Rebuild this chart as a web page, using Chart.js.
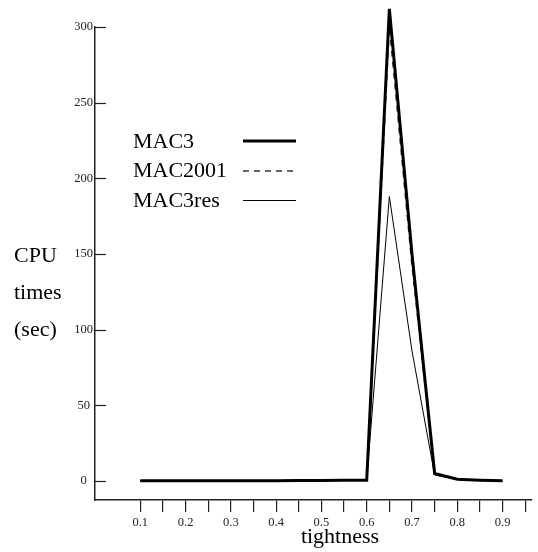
<!DOCTYPE html>
<html>
<head>
<meta charset="utf-8">
<script src="https://cdn.jsdelivr.net/npm/chart.js@4.4.1/dist/chart.umd.min.js"></script>
<style>
    html, body { margin: 0; padding: 0; background: #fff; }
    #wrap { width: 538px; height: 552px; }
</style>
</head>
<body>
<div id="wrap"><canvas id="cpuChart" width="538" height="552"></canvas></div>
<script>
const tightness = [0.1, 0.15, 0.2, 0.25, 0.3, 0.35, 0.4, 0.45, 0.5, 0.55, 0.6, 0.65, 0.7, 0.75, 0.8, 0.85, 0.9];
const mac3 =     [0.2, 0.2, 0.2, 0.2, 0.3, 0.3, 0.3, 0.4, 0.4, 0.5, 0.6, 312, 150, 5, 1.2, 0.6, 0.2];
const mac2001 =  [0.2, 0.2, 0.2, 0.2, 0.3, 0.3, 0.3, 0.4, 0.4, 0.5, 0.6, 300, 142, 5, 1.2, 0.6, 0.2];
const mac3res =  [0.2, 0.2, 0.2, 0.2, 0.2, 0.3, 0.3, 0.3, 0.4, 0.4, 0.5, 188, 86, 4, 1.0, 0.5, 0.2];

const yTicks = [0, 50, 100, 150, 200, 250, 300];
const xTicks = [0.1, 0.15, 0.2, 0.25, 0.3, 0.35, 0.4, 0.45, 0.5, 0.55, 0.6, 0.65, 0.7, 0.75, 0.8, 0.85, 0.9, 0.95];
const xLabels = ['0.1', '0.2', '0.3', '0.4', '0.5', '0.6', '0.7', '0.8', '0.9'];

const seriesNames = ['MAC3', 'MAC2001', 'MAC3res'];
const yTitle = ['CPU', 'times', '(sec)'];
const xTitle = 'tightness';

const SERIF = '"Liberation Serif", "DejaVu Serif", serif';

const toPoints = (ys) => tightness.map((x, i) => ({ x, y: ys[i] }));

const lineStyles = [
    { borderColor: '#000', borderWidth: 3, borderDash: [] },
    { borderColor: '#333', borderWidth: 1.4, borderDash: [6, 5] },
    { borderColor: '#000', borderWidth: 1, borderDash: [] },
];

// axis titles, inward y ticks and the hand-placed legend
const decorations = {
    id: 'decorations',
    afterDraw(chart) {
        const ctx = chart.ctx;
        const y = chart.scales.y;
        const area = chart.chartArea;

        ctx.save();
        ctx.strokeStyle = '#222';
        ctx.lineWidth = 1.2;
        y.ticks.forEach(t => {
            const py = Math.round(y.getPixelForValue(t.value)) + 0.5;
            ctx.beginPath();
            ctx.moveTo(area.left, py);
            ctx.lineTo(area.left + 11, py);
            ctx.stroke();
        });

        ctx.fillStyle = '#000';
        ctx.textAlign = 'left';
        ctx.textBaseline = 'alphabetic';
        ctx.font = '22px ' + SERIF;
        const titleBase = [262, 299, 336];
        yTitle.forEach((s, i) => ctx.fillText(s, 14, titleBase[i]));

        ctx.textAlign = 'center';
        ctx.font = '22px ' + SERIF;
        ctx.fillText(xTitle, 340, 543);

        // legend
        ctx.textAlign = 'left';
        const legBase = [148, 177, 207];
        const legLine = [141, 171, 200.5];
        seriesNames.forEach((name, i) => {
            ctx.fillStyle = '#000';
            ctx.fillText(name, 133, legBase[i]);
            const st = lineStyles[i];
            ctx.strokeStyle = st.borderColor;
            ctx.lineWidth = st.borderWidth;
            ctx.setLineDash(st.borderDash);
            ctx.beginPath();
            ctx.moveTo(243, legLine[i]);
            ctx.lineTo(296, legLine[i]);
            ctx.stroke();
        });
        ctx.restore();
    }
};

new Chart(document.getElementById('cpuChart').getContext('2d'), {
    type: 'line',
    data: {
        datasets: seriesNames.map((name, i) => ({
            label: name,
            data: i === 0 ? toPoints(mac3) : i === 1 ? toPoints(mac2001) : toPoints(mac3res),
            ...lineStyles[i],
            pointRadius: 0,
            tension: 0,
            fill: false,
            clip: false,
        })),
    },
    options: {
        responsive: false,
        animation: false,
        layout: { padding: { top: 27, right: 6, left: 0, bottom: 0 } },
        plugins: {
            legend: { display: false },
            tooltip: { enabled: false },
        },
        scales: {
            x: {
                type: 'linear',
                min: 0,
                max: 0.965,
                afterFit: (scale) => { scale.height = 52; },
                afterBuildTicks: (scale) => { scale.ticks = xTicks.map(v => ({ value: v })); },
                grid: {
                    display: true,
                    drawOnChartArea: false,
                    drawTicks: true,
                    tickLength: 12,
                    color: '#222',
                    lineWidth: 1.2,
                },
                border: { display: true, color: '#222', width: 1.5 },
                ticks: {
                    autoSkip: false,
                    maxRotation: 0,
                    padding: 3,
                    color: '#222',
                    font: { family: SERIF, size: 12.5 },
                    callback: (v) => {
                        const s = (Math.round(v * 100) / 100).toString();
                        return xLabels.includes(s) ? s : '';
                    },
                },
            },
            y: {
                type: 'linear',
                min: -12.5,
                max: 300,
                afterFit: (scale) => { scale.width = 95; },
                afterBuildTicks: (scale) => { scale.ticks = yTicks.map(v => ({ value: v })); },
                grid: { display: false, drawTicks: false },
                border: { display: true, color: '#222', width: 1.5 },
                ticks: {
                    padding: 2,
                    crossAlign: 'center',
                    color: '#222',
                    font: { family: SERIF, size: 12.5 },
                },
            },
        },
    },
    plugins: [decorations],
});
</script>
</body>
</html>
